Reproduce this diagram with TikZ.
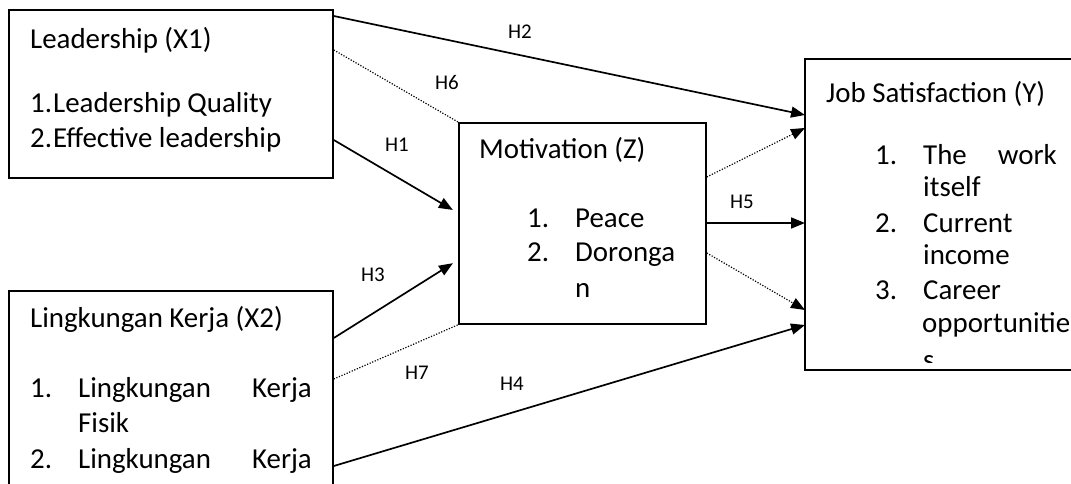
\documentclass[tikz,border=0pt]{standalone}
\usepackage{fontspec}
\setmainfont{Carlito}
\usetikzlibrary{arrows.meta,calc}
\tikzset{varbox/.style={draw, rectangle, line width=1.8pt, anchor=north west, inner sep=0pt}}
\tikzset{openbox/.style={varbox, draw=none}}
\tikzset{boxtext/.style={anchor=base west, inner sep=0pt, font=\fontsize{29}{35}\selectfont}}
\tikzset{boxtextr/.style={boxtext, anchor=base east}}
\tikzset{hyp/.style={inner sep=1pt, font=\fontsize{21}{24}\selectfont}}
\tikzset{line/.style={draw, line width=1.7pt, -{Triangle[length=14pt,width=11pt]}}}
\tikzset{dotline/.style={draw, line width=1.2pt, dash pattern=on 1.2pt off 1.6pt}}

\begin{document}
\begin{tikzpicture}[x=1bp, y=-1bp]
		\useasboundingbox (0,0) rectangle (1071,484);
		\clip (0,0) rectangle (1071,484);
		
		% boxes
		\node [varbox, minimum width=324bp, minimum height=168bp] (x1) at (8,9) {};
		\node [varbox, minimum width=324bp, minimum height=250bp] (x2) at (8,290) {};
		\node [varbox, minimum width=247bp, minimum height=201bp] (mot) at (458,122) {};
		\node [openbox, minimum width=330bp, minimum height=309bp] (jobsat) at (805,59) {};
		\draw [line width=1.8pt] (jobsat.north east) -- (jobsat.north west) -- (jobsat.south west) -- (jobsat.south east);
		
		% Leadership
		\node [boxtext] (x1title) at (30,49) {Leadership (X1)};
		\node [boxtext] (x1n1) at (30,113) {1.};
		\node [boxtext] (x1i1) at (53,113) {Leadership Quality};
		\node [boxtext] (x1n2) at (30,148) {2.};
		\node [boxtext] (x1i2) at (53,148) {Effective leadership};
		
		% Lingkungan Kerja
		\node [boxtext] (x2title) at (30,328) {Lingkungan Kerja (X2)};
		\node [boxtext] (x2n1) at (30,397) {1.};
		\node [boxtext] (x2i1) at (78,397) {Lingkungan};
		\node [boxtextr] (x2k1) at (312,397) {Kerja};
		\node [boxtext] (x2i1b) at (78,432) {Fisik};
		\node [boxtext] (x2n2) at (30,468) {2.};
		\node [boxtext] (x2i2) at (78,468) {Lingkungan};
		\node [boxtextr] (x2k2) at (312,468) {Kerja};
		
		% Motivation
		\node [boxtext] (mottitle) at (479,159) {Motivation (Z)};
		\node [boxtext] (motn1) at (527,228) {1.};
		\node [boxtext] (moti1) at (575,228) {Peace};
		\node [boxtext] (motn2) at (527,262) {2.};
		\node [boxtext] (moti2) at (575,262) {Doronga};
		\node [boxtext] (moti2b) at (575,298) {n};
		
		% Job Satisfaction
		\node [boxtext] (ytitle) at (826,103) {Job Satisfaction (Y)};
		\node [boxtext] (yn1) at (875,165) {1.};
		\node [boxtext] (yi1) at (923,165) {The};
		\node [boxtextr] (yi1w) at (1057,165) {work};
		\node [boxtext] (yi1b) at (923,197) {itself};
		\node [boxtext] (yn2) at (875,233) {2.};
		\node [boxtext] (yi2) at (923,233) {Current};
		\node [boxtext] (yi2b) at (923,265) {income};
		\node [boxtext] (yn3) at (875,300) {3.};
		\node [boxtext] (yi3) at (923,300) {Career};
		\node [boxtext] (yi3b) at (922,333) {opportunitie};
		\begin{scope}
			\clip (jobsat.north west) rectangle ([yshift=7bp]jobsat.south east);
			\node [boxtext] (yi3c) at (923,370) {s};
		\end{scope}
		
		% end points on the box edges
		\coordinate (x1h2) at ($(x1.north east)+(0,7)$);
		\coordinate (x1h6) at ($(x1.north east)+(0,41)$);
		\coordinate (x1h1) at ($(x1.north east)+(0,131)$);
		\coordinate (x2h3) at ($(x2.north east)+(0,48)$);
		\coordinate (x2h7) at ($(x2.north east)+(0,89)$);
		\coordinate (x2h4) at ($(x2.north east)+(0,176)$);
		\coordinate (moth1) at ($(mot.north west)+(0,91)$);
		\coordinate (moth3) at ($(mot.north west)+(0,138)$);
		\coordinate (motup) at ($(mot.north east)+(0,55)$);
		\coordinate (moth5) at ($(mot.north east)+(0,101)$);
		\coordinate (motdn) at ($(mot.north east)+(0,131)$);
		\coordinate (yh2) at ($(jobsat.north west)+(0,56)$);
		\coordinate (yup) at ($(jobsat.north west)+(0,69)$);
		\coordinate (yh5) at ($(jobsat.north west)+(0,164)$);
		\coordinate (ydn) at ($(jobsat.north west)+(0,251)$);
		\coordinate (yh4) at ($(jobsat.north west)+(0,266)$);
		
		\path [line] (x1h2) -- (yh2);
		\path [line, shorten >=6pt] (x1h1) -- (moth1);
		\path [line, shorten >=6pt] (x2h3) -- (moth3);
		\path [line] (x2h4) -- (yh4);
		\path [line] (moth5) -- (yh5);
		\path [dotline] (x1h6) -- (mot.north west);
		\path [dotline] (x2h7) -- (mot.south west);
		\path [dotline, line, line width=1.2pt] (motup) -- (yup);
		\path [dotline, line, line width=1.2pt] (motdn) -- (ydn);
		
		\node [hyp] (h1) at (397,145) {H1};
		\node [hyp] (h2) at (520,32) {H2};
		\node [hyp] (h3) at (373,275) {H3};
		\node [hyp] (h4) at (512,384) {H4};
		\node [hyp] (h5) at (742,202) {H5};
		\node [hyp] (h6) at (447,83) {H6};
		\node [hyp] (h7) at (417,373) {H7};
		
\end{tikzpicture}
\end{document}
